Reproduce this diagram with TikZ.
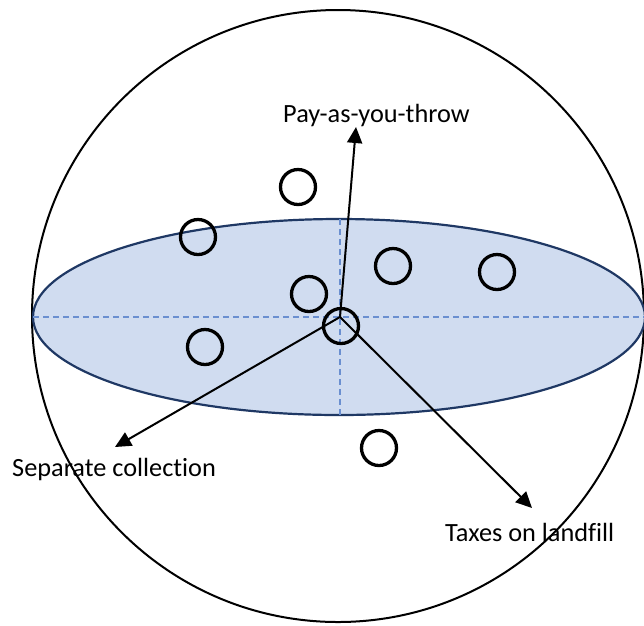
\documentclass[tikz,border=0pt]{standalone}
\usepackage{fontspec}
\setmainfont{Carlito}[Ligatures=NoCommon]
\usepackage{tikz}
\usetikzlibrary{arrows.meta, positioning}
\definecolor{discfill}{HTML}{D0DCF0}
\definecolor{discline}{HTML}{1F3864}
\definecolor{axisblue}{HTML}{6A8FD0}

\begin{document}
\begin{tikzpicture}[x=1pt, y=-1pt,
    ball/.style={circle, draw, line width=3.3pt, minimum size=35pt, inner sep=0pt},
    axis/.style={axisblue, line width=1.3pt, dash pattern=on 6pt off 4pt},
    arr/.style={line width=2pt, -{Triangle[length=16pt, width=15pt]}},
    lbl/.style={anchor=base west, inner sep=0pt, font=\fontsize{26.3}{30}\selectfont}]
    \useasboundingbox (0,0) rectangle (644,625);

    \draw[line width=2pt] (338,316) circle (306);
    \filldraw[fill=discfill, draw=discline, line width=2.2pt] (339,317) ellipse (306 and 98);

    \coordinate (o) at (340,317);
    \draw[axis] (33,317) -- (645,317);
    \draw[axis] (340,219) -- (340,415);

    \node[ball] (b1) at (298,187) {};
    \node[ball] (b2) at (198,237) {};
    \node[ball] (b3) at (309,294) {};
    \node[ball] (b4) at (393,266) {};
    \node[ball] (b5) at (497,272) {};
    \node[ball] (b6) at (205,347) {};
    \node[ball] (b7) at (341,326) {};
    \node[ball] (b8) at (379,448) {};

    \node[lbl] (pay) at (283,122) {Pay-as-you-throw};
    \node[lbl] (sep) at (12,476) {Separate collection};
    \node[lbl] (tax) at (445,541) {Taxes on landfill};

    \coordinate (tipP) at (356,127);
    \coordinate (tipS) at (115,447);
    \coordinate (tipT) at (532,508);

    \draw[arr] (o) -- (tipP);
    \draw[arr] (o) -- (tipS);
    \draw[arr] (o) -- (tipT);
\end{tikzpicture}
\end{document}
